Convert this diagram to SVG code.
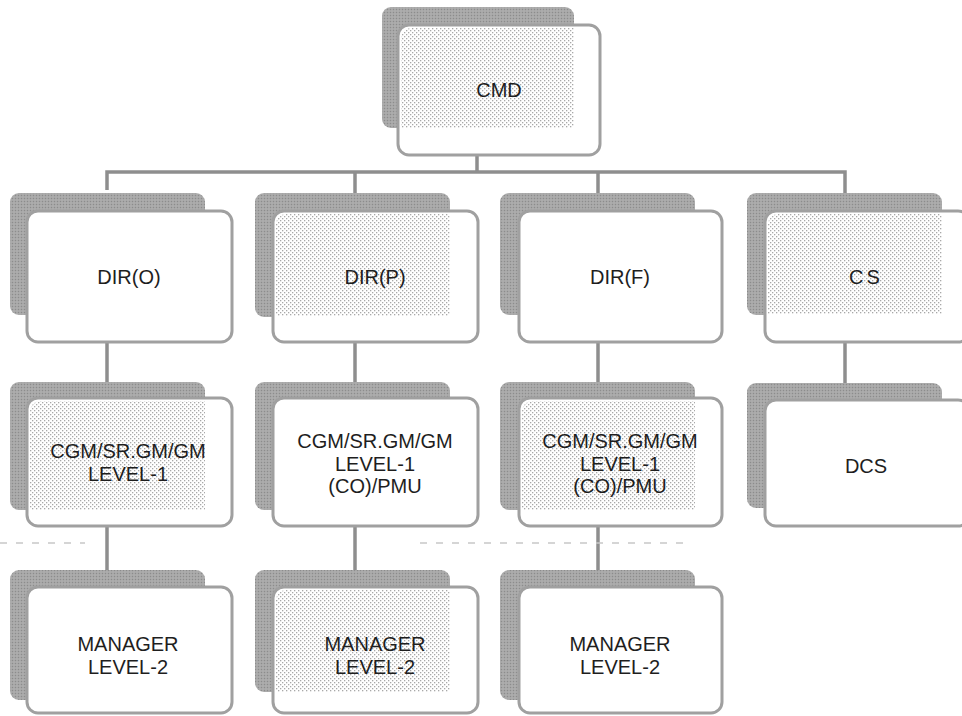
<svg xmlns="http://www.w3.org/2000/svg" width="962" height="716" viewBox="0 0 962 716">
<defs>
<pattern id="stip" width="4" height="4" patternUnits="userSpaceOnUse">
<rect width="4" height="4" fill="#ffffff"/>
<rect x="0" y="0" width="1.3" height="1.3" fill="#a8a8a8"/>
<rect x="2" y="2" width="1.3" height="1.3" fill="#a8a8a8"/>
</pattern>
<pattern id="shade" width="3" height="3" patternUnits="userSpaceOnUse">
<rect width="3" height="3" fill="#a6a6a6"/>
<rect x="0" y="0" width="1" height="1" fill="#8c8c8c"/>
<rect x="1.5" y="1.5" width="1" height="1" fill="#bdbdbd"/>
</pattern>
</defs>
<style>
.back{fill:url(#shade);}
.front{fill:#ffffff;stroke:#a0a0a0;stroke-width:3;}
.dots{fill:url(#stip);}
.lbl{font-family:"Liberation Sans",Arial,sans-serif;font-size:20px;fill:#1e1e1e;text-anchor:middle;}
.conn{stroke:#8e8e8e;stroke-width:3.5;fill:none;}
.noise{stroke:#c8c8c8;stroke-width:1.5;stroke-dasharray:7 9;fill:none;}
</style>
<rect width="962" height="716" fill="#ffffff"/>

<g id="connectors">
<path class="conn" d="M477 155 V172 M107 190 V172 H845 V193 M355 172 V193 M598 172 V193"/>
<path class="conn" d="M107 342 V384 M355 342 V384 M598 342 V384 M845 342 V384"/>
<path class="conn" d="M107 526 V572 M355 526 V572 M598 526 V572"/>
</g>

<g id="noise">
<path class="noise" d="M0 543 H85"/>
<path class="noise" d="M420 543 H690"/>
</g>

<g id="cmd">
<rect class="back" x="382" y="7" width="192" height="121" rx="9"/>
<rect class="front" x="398" y="25" width="202" height="130" rx="11"/>
<path class="dots" d="M411 28 H574 V128 H401 V38 A10 10 0 0 1 411 28 Z"/>
<text class="lbl" x="499" y="97">CMD</text>
</g>

<g id="dir-o">
<rect class="back" x="10" y="193" width="195" height="122" rx="9"/>
<rect class="front" x="27" y="211" width="205" height="131" rx="11"/>
<text class="lbl" x="129" y="284">DIR(O)</text>
</g>

<g id="dir-p">
<rect class="back" x="255" y="193" width="195" height="124" rx="9"/>
<rect class="front" x="273" y="211" width="205" height="131" rx="11"/>
<path class="dots" d="M286 214 H450 V316 H276 V224 A10 10 0 0 1 286 214 Z"/>
<text class="lbl" x="375" y="284">DIR(P)</text>
</g>

<g id="dir-f">
<rect class="back" x="500" y="193" width="195" height="122" rx="9"/>
<rect class="front" x="519" y="211" width="203" height="131" rx="11"/>
<text class="lbl" x="620" y="284">DIR(F)</text>
</g>

<g id="cs">
<rect class="back" x="747" y="193" width="195" height="122" rx="9"/>
<rect class="front" x="765" y="211" width="204" height="131" rx="11"/>
<path class="dots" d="M778 214 H942 V314 H768 V224 A10 10 0 0 1 778 214 Z"/>
<text class="lbl" x="866" y="284" style="letter-spacing:3px">CS</text>
</g>

<g id="l1-o">
<rect class="back" x="10" y="382" width="195" height="128" rx="9"/>
<rect class="front" x="27" y="398" width="205" height="128" rx="11"/>
<path class="dots" d="M40 401 H205 V510 H30 V411 A10 10 0 0 1 40 401 Z"/>
<text class="lbl" x="128" y="458">CGM/SR.GM/GM</text>
<text class="lbl" x="128" y="480.5">LEVEL-1</text>
</g>

<g id="l1-p">
<rect class="back" x="255" y="382" width="195" height="128" rx="9"/>
<rect class="front" x="273" y="398" width="205" height="128" rx="11"/>
<text class="lbl" x="375" y="448">CGM/SR.GM/GM</text>
<text class="lbl" x="375" y="470.5">LEVEL-1</text>
<text class="lbl" x="375" y="493">(CO)/PMU</text>
</g>

<g id="l1-f">
<rect class="back" x="500" y="382" width="195" height="128" rx="9"/>
<rect class="front" x="519" y="398" width="203" height="128" rx="11"/>
<path class="dots" d="M532 401 H695 V510 H522 V411 A10 10 0 0 1 532 401 Z"/>
<text class="lbl" x="620" y="448">CGM/SR.GM/GM</text>
<text class="lbl" x="620" y="470.5">LEVEL-1</text>
<text class="lbl" x="620" y="493">(CO)/PMU</text>
</g>

<g id="dcs">
<rect class="back" x="747" y="383" width="195" height="125" rx="9"/>
<rect class="front" x="765" y="400" width="204" height="126" rx="11"/>
<text class="lbl" x="866" y="473">DCS</text>
</g>

<g id="mgr-o">
<rect class="back" x="10" y="570" width="195" height="130" rx="9"/>
<rect class="front" x="27" y="587" width="205" height="126" rx="11"/>
<text class="lbl" x="128" y="651">MANAGER</text>
<text class="lbl" x="128" y="673.5">LEVEL-2</text>
</g>

<g id="mgr-p">
<rect class="back" x="255" y="570" width="195" height="122" rx="9"/>
<rect class="front" x="273" y="587" width="205" height="126" rx="11"/>
<path class="dots" d="M286 590 H450 V692 H276 V600 A10 10 0 0 1 286 590 Z"/>
<text class="lbl" x="375" y="651">MANAGER</text>
<text class="lbl" x="375" y="673.5">LEVEL-2</text>
</g>

<g id="mgr-f">
<rect class="back" x="500" y="570" width="195" height="130" rx="9"/>
<rect class="front" x="519" y="587" width="203" height="126" rx="11"/>
<text class="lbl" x="620" y="651">MANAGER</text>
<text class="lbl" x="620" y="673.5">LEVEL-2</text>
</g>
</svg>
